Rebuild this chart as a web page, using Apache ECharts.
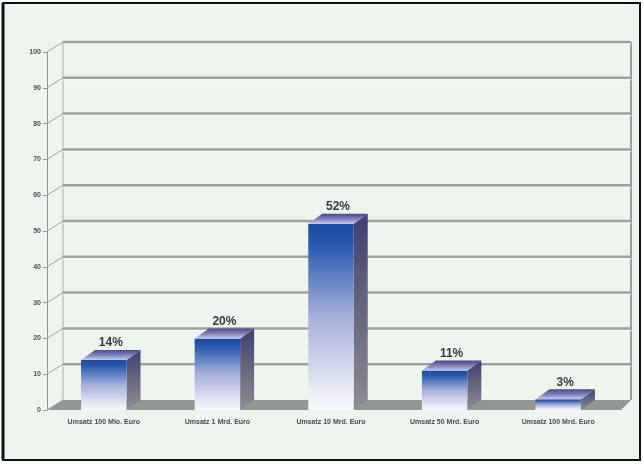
<!DOCTYPE html>
<html>
<head>
<meta charset="utf-8">
<script src="https://cdn.jsdelivr.net/npm/echarts@6/dist/echarts.min.js"></script>
<style>
  html, body { margin: 0; padding: 0; background: #ffffff; }
  #chart { width: 644px; height: 464px; }
</style>
</head>
<body>
<div id="chart"></div>
<script>
// Revenue classes and share of companies (percent)
const categories = [
  'Umsatz 100 Mio. Euro',
  'Umsatz 1 Mrd. Euro',
  'Umsatz 10 Mrd. Euro',
  'Umsatz 50 Mrd. Euro',
  'Umsatz 100 Mrd. Euro'
];
const shares = [14, 20, 52, 11, 3];
const yTicks = [0, 10, 20, 30, 40, 50, 60, 70, 80, 90, 100];

// depth offset of the pseudo-3D wall and bars
const DX = 16, DY = 10;
const BX = 14, BY = 10;

const chart = echarts.init(document.getElementById('chart'), null, { renderer: 'canvas' });

// back wall, wall connectors and floor
function renderWall(params, api) {
  const cs = params.coordSys;
  const children = [];
  const y0 = api.coord([0, 0])[1];
  const y100 = api.coord([0, 100])[1];
  if (params.dataIndex === 0) {
    // floor slab
    children.push({
      type: 'polygon',
      shape: { points: [[cs.x, y0], [cs.x + cs.width + 6, y0], [cs.x + cs.width + DX, y0 - DY], [cs.x + DX, y0 - DY]] },
      style: { fill: '#939793' }
    });
    // back wall left and right edges
    children.push({ type: 'line', shape: { x1: cs.x + DX, y1: y100 - DY, x2: cs.x + DX, y2: y0 - DY }, style: { stroke: '#a8aea8', lineWidth: 1 } });
    children.push({ type: 'line', shape: { x1: cs.x + cs.width + DX, y1: y100 - DY, x2: cs.x + cs.width + DX, y2: y0 - DY }, style: { stroke: '#9aa09a', lineWidth: 2 } });
  }
  const v = api.value(0);
  const y = api.coord([0, v])[1];
  if (v > 0) {
    children.push({ type: 'line', shape: { x1: cs.x + DX, y1: y - DY + 2, x2: cs.x + cs.width + DX, y2: y - DY + 2 }, style: { stroke: '#fbfdfb', lineWidth: 1 } });
    children.push({ type: 'line', shape: { x1: cs.x + DX, y1: y - DY, x2: cs.x + cs.width + DX, y2: y - DY }, style: { stroke: '#9ca29c', lineWidth: 2.5 } });
  }
  children.push({ type: 'line', shape: { x1: cs.x, y1: y, x2: cs.x + DX, y2: y - DY }, style: { stroke: '#9ca29c', lineWidth: 1 } });
  return { type: 'group', children: children };
}

// 3D-looking bars
function renderBar(params, api) {
  const idx = api.value(0);
  const val = api.value(1);
  const base = api.coord([idx, 0]);
  const top = api.coord([idx, val]);
  const w = api.size([1, 0])[0] * 0.4;
  const x0 = base[0] - w / 2;
  const x1 = x0 + w;
  const yt = top[1], yb = base[1];
  return {
    type: 'group',
    children: [
      {
        type: 'polygon',
        shape: { points: [[x1, yt], [x1 + BX, yt - BY], [x1 + BX, yb - BY], [x1, yb]] },
        style: {
          fill: new echarts.graphic.LinearGradient(0, 0, 0, 1, [
            { offset: 0, color: '#3e3e74' },
            { offset: 0.4, color: '#60607a' },
            { offset: 1, color: '#8c8c94' }
          ])
        }
      },
      {
        type: 'rect',
        shape: { x: x0, y: yt, width: w, height: yb - yt },
        style: {
          fill: new echarts.graphic.LinearGradient(0, 0, 0, 1, [
            { offset: 0, color: '#1a4ca4' },
            { offset: 0.1, color: '#2456ae' },
            { offset: 0.5, color: '#a6b0d8' },
            { offset: 1, color: '#fafafd' }
          ])
        }
      },
      {
        type: 'polygon',
        shape: { points: [[x0, yt], [x0 + BX, yt - BY], [x1 + BX, yt - BY], [x1, yt]] },
        style: {
          fill: new echarts.graphic.LinearGradient(0, 0, 0, 1, [
            { offset: 0, color: '#464690' },
            { offset: 0.6, color: '#8a8cc4' },
            { offset: 1, color: '#c4cceb' }
          ])
        }
      },
      {
        type: 'text',
        style: {
          text: val + '%',
          x: (x0 + x1) / 2 + BX / 2,
          y: yt - BY - 1,
          align: 'center',
          verticalAlign: 'bottom',
          fill: '#3a3a3a',
          font: 'bold 12px "Liberation Sans", Arial, sans-serif'
        }
      }
    ]
  };
}

chart.setOption({
  backgroundColor: '#ffffff',
  animation: false,
  graphic: [
    {
      type: 'rect',
      shape: { x: 3, y: 3, width: 637, height: 457 },
      style: { fill: '#eef4ee', stroke: '#111111', lineWidth: 2 },
      z: -10
    },
    {
      type: 'line',
      shape: { x1: 3, y1: 3, x2: 3, y2: 460 },
      style: { stroke: '#111111', lineWidth: 3 },
      z: -9
    }
  ],
  grid: { left: 47, right: 29, top: 52, bottom: 54 },
  xAxis: {
    type: 'category',
    data: categories,
    axisLine: { show: false },
    axisTick: { show: false },
    axisLabel: {
      margin: 9,
      color: '#4a4a4a',
      fontSize: 7,
      fontWeight: 'bold',
      fontFamily: '"Liberation Sans", Arial, sans-serif'
    }
  },
  yAxis: {
    type: 'value',
    min: 0,
    max: 100,
    interval: 10,
    axisLine: { show: true, lineStyle: { color: '#8e948e', width: 1 } },
    axisTick: { show: true, length: 4, lineStyle: { color: '#8e948e' } },
    splitLine: { show: false },
    axisLabel: {
      margin: 6,
      color: '#505050',
      fontSize: 7,
      fontWeight: 'bold',
      fontFamily: '"Liberation Sans", Arial, sans-serif'
    }
  },
  series: [
    {
      type: 'custom',
      renderItem: renderWall,
      data: yTicks.map(v => [v]),
      encode: { y: 0 },
      silent: true,
      z: 1
    },
    {
      type: 'custom',
      renderItem: renderBar,
      data: shares.map((v, i) => [i, v]),
      encode: { x: 0, y: 1 },
      z: 5
    }
  ]
});
</script>
</body>
</html>
